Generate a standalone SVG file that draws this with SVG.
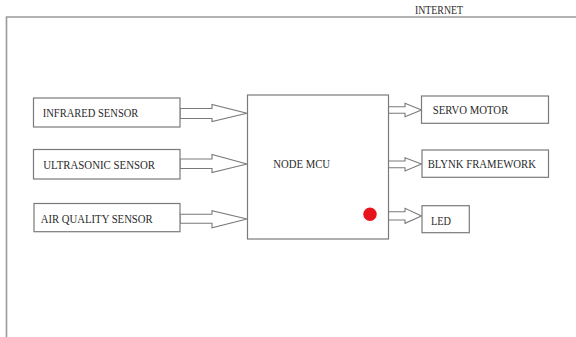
<svg xmlns="http://www.w3.org/2000/svg" width="576" height="337" viewBox="0 0 576 337">
<style>
.box{fill:#fff;stroke:#7a7a7a;stroke-width:1.2}
.arr{fill:#fff;stroke:#7a7a7a;stroke-width:1.1;stroke-linejoin:miter}
.t{font-family:"Liberation Serif","Times New Roman",serif;font-size:12px;fill:#2a2a2a}
</style>
<rect width="576" height="337" fill="#fff"/>
<path d="M6.5 337 V17 H576" fill="none" stroke="#9a9a9a" stroke-width="1.6"/>
<text class="t" x="415" y="14" textLength="48" lengthAdjust="spacingAndGlyphs">INTERNET</text>
<g id="connectors">
<polygon class="arr" points="180,108.5 212,108.5 212,104.5 247,113.3 212,121.5 212,118.5 180,118.5"/>
<polygon class="arr" points="180,159 212,159 212,154.5 247,164 212,172.5 212,168.5 180,168.5"/>
<polygon class="arr" points="180,214.3 212,214.3 212,210.7 247,219 212,227.7 212,223.3 180,223.3"/>
<polygon class="arr" points="388,106.7 405,106.7 405,103.3 421.5,110 405,116.7 405,113.3 388,113.3"/>
<polygon class="arr" points="388,161 405,161 405,157.7 421.5,164 405,171 405,167.7 388,167.7"/>
<polygon class="arr" points="388,211.7 405,211.7 405,208.3 421.5,216 405,223.3 405,220 388,220"/>
</g>
<g id="infrared">
<rect class="box" x="33.5" y="98" width="146.5" height="29"/>
<text class="t" x="42.7" y="117" textLength="95.7" lengthAdjust="spacingAndGlyphs">INFRARED SENSOR</text>
</g>
<g id="ultrasonic">
<rect class="box" x="33.5" y="149.5" width="146.5" height="29.5"/>
<text class="t" x="43.3" y="168.5" textLength="111.7" lengthAdjust="spacingAndGlyphs">ULTRASONIC SENSOR</text>
</g>
<g id="airquality">
<rect class="box" x="34" y="203.5" width="146" height="28.2"/>
<text class="t" x="40.7" y="222.5" textLength="112" lengthAdjust="spacingAndGlyphs">AIR QUALITY SENSOR</text>
</g>
<g id="nodemcu">
<rect class="box" x="247.5" y="95" width="141" height="144"/>
<text class="t" x="273.3" y="167.5" textLength="56.7" lengthAdjust="spacingAndGlyphs">NODE MCU</text>
<circle cx="370" cy="214.3" r="6.7" fill="#e8141c"/>
</g>
<g id="servo">
<rect class="box" x="421.5" y="96" width="127" height="27.3"/>
<text class="t" x="432.7" y="114.3" textLength="75.6" lengthAdjust="spacingAndGlyphs">SERVO MOTOR</text>
</g>
<g id="blynk">
<rect class="box" x="422" y="150" width="126.5" height="27.3"/>
<text class="t" x="427.7" y="168" textLength="108.3" lengthAdjust="spacingAndGlyphs">BLYNK FRAMEWORK</text>
</g>
<g id="led">
<rect class="box" x="422" y="205.7" width="47.3" height="27"/>
<text class="t" x="431" y="225.3" textLength="20" lengthAdjust="spacingAndGlyphs">LED</text>
</g>
</svg>
